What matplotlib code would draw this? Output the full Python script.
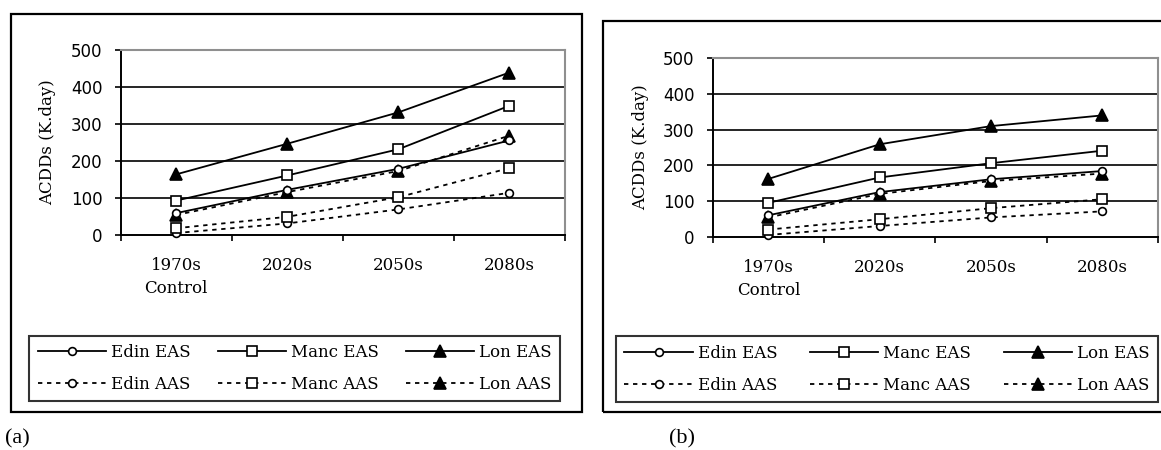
import matplotlib
matplotlib.use("Agg")
import matplotlib.pyplot as plt
from matplotlib.patches import Rectangle
import numpy as np

# ---- data ----
categories = ["1970s\nControl", "2020s", "2050s", "2080s"]
series_names = ["Edin EAS", "Manc EAS", "Lon EAS", "Edin AAS", "Manc AAS", "Lon AAS"]

a_edin_eas = [58, 121, 178, 255]
a_manc_eas = [92, 160, 231, 349]
a_lon_eas = [163, 246, 331, 439]
a_edin_aas = [4, 30, 68, 113]
a_manc_aas = [17, 48, 101, 180]
a_lon_aas = [53, 115, 172, 268]

b_edin_eas = [60, 125, 161, 184]
b_manc_eas = [95, 166, 206, 241]
b_lon_eas = [162, 259, 310, 340]
b_edin_aas = [5, 30, 54, 71]
b_manc_aas = [20, 49, 80, 105]
b_lon_aas = [54, 120, 156, 177]

y_ticks = [0, 100, 200, 300, 400, 500]
y_label = "ACDDs (K.day)"
panel_labels = ["(a)", "(b)"]

W, H = 1161, 450
fig = plt.figure(figsize=(W / 100, H / 100), dpi=100)

SERIF = ["DejaVu Serif"]
SANS = ["DejaVu Sans"]

DASH = (0, (2.4, 2.6))
styles = {
    "Edin EAS": dict(ls="-", marker="o", ms=5.6, mfc="white"),
    "Manc EAS": dict(ls="-", marker="s", ms=7.2, mfc="white"),
    "Lon EAS": dict(ls="-", marker="^", ms=8.8, mfc="black"),
    "Edin AAS": dict(ls=DASH, marker="o", ms=5.6, mfc="white"),
    "Manc AAS": dict(ls=DASH, marker="s", ms=7.2, mfc="white"),
    "Lon AAS": dict(ls=DASH, marker="^", ms=8.8, mfc="black"),
}

def px(x0, y0, x1, y1):
    return [x0 / W, 1 - y1 / H, (x1 - x0) / W, (y1 - y0) / H]

def draw_panel(rect, frame, legbox, data, label_pos, ylab_x):
    fx0, fy0, fx1, fy1 = frame
    fig.patches.append(Rectangle((fx0 / W, 1 - fy1 / H), (fx1 - fx0) / W, (fy1 - fy0) / H,
                                 transform=fig.transFigure, fill=False, ec="black", lw=1.6))
    ax = fig.add_axes(px(*rect))
    x = np.arange(len(categories))
    handles = {}
    order = ["Edin AAS", "Manc AAS", "Lon AAS", "Edin EAS", "Manc EAS", "Lon EAS"]
    for name in order:
        st = styles[name]
        h, = ax.plot(x, data[name], color="black", lw=1.3, ls=st["ls"], marker=st["marker"],
                     ms=st["ms"], mfc=st["mfc"], mec="black", mew=1.2, clip_on=False, zorder=3)
        handles[name] = h
    ax.set_xlim(-0.5, len(categories) - 0.5)
    ax.set_ylim(0, 500)
    ax.set_yticks(y_ticks)
    ax.set_yticklabels([str(v) for v in y_ticks], fontfamily=SANS, fontsize=12)
    ax.set_xticks(x)
    ax.set_xticklabels(categories, fontfamily=SERIF, fontsize=12, linespacing=1.45)
    ax.set_xticks(np.arange(-0.5, len(categories)), minor=True)
    ax.tick_params(axis="x", which="major", length=0, pad=16)
    ax.tick_params(axis="x", which="minor", length=4.5, width=1.2, direction="out")
    ax.tick_params(axis="y", which="major", length=4, width=1.2, direction="out", pad=9)
    for yv in y_ticks[1:-1]:
        ax.axhline(yv, color="black", lw=1.2, zorder=1)
    ax.spines["left"].set_linewidth(1.4)
    ax.spines["bottom"].set_linewidth(1.4)
    ax.spines["top"].set_color("#8f8f8f")
    ax.spines["right"].set_color("#8f8f8f")
    ax.spines["top"].set_linewidth(1.5)
    ax.spines["right"].set_linewidth(1.5)
    ax.text(ylab_x, 0.5, y_label, transform=ax.transAxes, rotation=90, ha="center", va="center",
            fontfamily=SERIF, fontsize=12)
    leg_order = ["Edin EAS", "Edin AAS", "Manc EAS", "Manc AAS", "Lon EAS", "Lon AAS"]
    lh = [handles[n] for n in leg_order]
    lx0, ly0, lx1, ly1 = legbox
    leg = fig.legend(lh, leg_order, loc="center", bbox_to_anchor=px(lx0, ly0, lx1, ly1),
                     bbox_transform=fig.transFigure, ncol=3, mode="expand",
                     prop={"family": SERIF, "size": 12}, frameon=True, fancybox=False,
                     handlelength=4.1, handletextpad=0.3, labelspacing=0.9, borderpad=0.5,
                     borderaxespad=0, columnspacing=0.8)
    leg.get_frame().set_edgecolor("black")
    leg.get_frame().set_linewidth(1.5)
    fig.text(label_pos[0] / W, 1 - label_pos[1] / H, label_pos[2], ha="center", va="center",
             fontfamily=["Liberation Serif"], fontsize=16)
    return ax

data_a = {"Edin EAS": a_edin_eas, "Manc EAS": a_manc_eas, "Lon EAS": a_lon_eas,
          "Edin AAS": a_edin_aas, "Manc AAS": a_manc_aas, "Lon AAS": a_lon_aas}
data_b = {"Edin EAS": b_edin_eas, "Manc EAS": b_manc_eas, "Lon EAS": b_lon_eas,
          "Edin AAS": b_edin_aas, "Manc AAS": b_manc_aas, "Lon AAS": b_lon_aas}

draw_panel((120.7, 50, 565, 234.5), (11, 13.5, 581.5, 412), (29.3, 331.7, 560, 405),
           data_a, (17, 439, panel_labels[0]), -0.1636)
draw_panel((712.7, 58.3, 1158, 236.7), (603.3, 20.7, 1170, 412), (616, 333, 1158, 405),
           data_b, (682, 439, panel_labels[1]), -0.161)

fig.savefig("out.png", dpi=100)
